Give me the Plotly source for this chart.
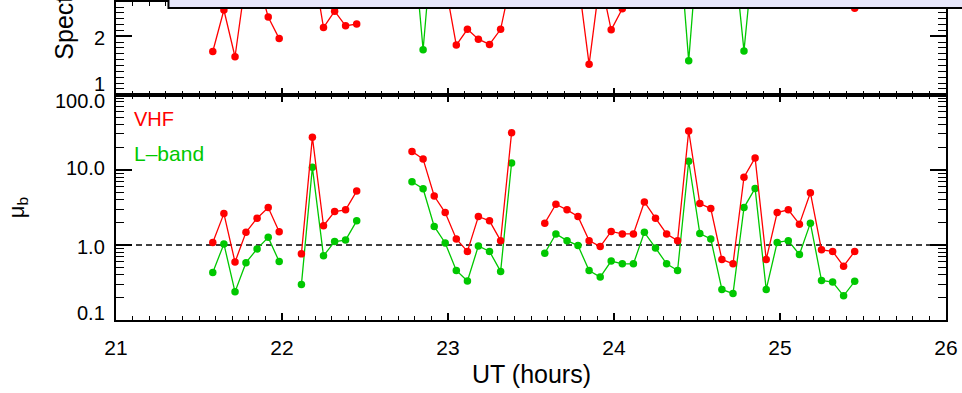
import plotly.graph_objects as go

# ---------------- data ----------------
# UT (hours); None separates the observation blocks
ut = [21.583, 21.650, 21.717, 21.783, 21.850, 21.917, 21.983, None,
      22.117, 22.183, 22.250, 22.317, 22.383, 22.450, None,
      22.783, 22.850, 22.917, 22.983, 23.050, 23.117, 23.183, 23.250, 23.317, 23.383, None,
      23.583, 23.650, 23.717, 23.783, 23.850, 23.917, 23.983, 24.050, 24.117, 24.183,
      24.250, 24.317, 24.383, 24.450, 24.517, 24.583, 24.650, 24.717, 24.783, 24.850,
      24.917, 24.983, 25.050, 25.117, 25.183, 25.250, 25.317, 25.383, 25.450]

mu_vhf = [1.08, 2.61, 0.59, 1.47, 2.27, 3.14, 1.50, None,
          0.76, 27.2, 1.80, 2.78, 2.93, 5.21, None,
          17.6, 13.9, 4.48, 2.70, 1.20, 0.82, 2.39, 2.09, 1.14, 31.1, None,
          1.95, 3.48, 2.93, 2.39, 1.14, 0.95, 1.51, 1.40, 1.40, 3.73,
          2.27, 1.40, 1.14, 33.0, 3.55, 3.05, 0.64, 0.56, 7.98, 14.4,
          0.64, 2.70, 2.93, 1.89, 4.95, 0.86, 0.82, 0.52, 0.82]

mu_lband = [0.43, 1.03, 0.237, 0.58, 0.885, 1.26, 0.60, None,
            0.296, 10.8, 0.716, 1.11, 1.16, 2.09, None,
            6.92, 5.60, 1.76, 1.06, 0.457, 0.33, 0.97, 0.82, 0.444, 12.3, None,
            0.775, 1.40, 1.14, 0.98, 0.457, 0.373, 0.61, 0.56, 0.56, 1.47,
            0.91, 0.56, 0.457, 13.0, 1.42, 1.20, 0.255, 0.225, 3.14, 5.66,
            0.255, 1.08, 1.14, 0.745, 1.95, 0.337, 0.32, 0.21, 0.327]

spec_vhf = [1.74, 2.45, 1.65, 3.0, 3.0, 2.33, 1.96, None,
            3.2, 3.3, 2.15, 2.43, 2.18, 2.21, None,
            3.2, 3.3, 3.1, 2.9, 1.85, 2.12, 1.95, 1.86, 2.12, 3.0, None,
            3.1, 3.2, 3.1, 3.0, 1.52, 3.0, 2.11, 2.47, 3.0, 3.2,
            3.3, 3.2, 3.3, 3.4, 3.3, 3.2, 3.3, 3.4, 3.3, 3.2,
            3.3, 3.2, 3.1, 3.2, 3.3, 3.2, 3.1, 3.2, 2.48]

spec_lband = [3.6, 3.5, 3.6, 3.7, 3.6, 3.5, 3.6, None,
              3.6, 3.7, 3.6, 3.5, 3.6, 3.7, None,
              3.9, 1.77, 4.0, 3.8, 3.7, 3.6, 3.7, 3.8, 3.7, 3.6, None,
              3.7, 3.6, 3.7, 3.8, 3.7, 3.6, 3.7, 3.6, 3.7, 3.8,
              3.7, 3.8, 4.0, 1.58, 4.0, 3.8, 3.7, 3.6, 1.75, 3.7,
              3.6, 3.7, 3.8, 3.7, 3.6, 3.7, 3.8, 3.7, 3.6]

y_ticks_mu = ["100.0", "10.0", "1.0", "0.1"]
y_ticks_spec = ["2", "1"]

# ---------------- figure ----------------
W, H = 962, 393
ML, MR, MT, MB = 115.5, 16, 0, 73
PW, PH = W - ML - MR, H - MT - MB
split = 1 - 93.3 / PH

RED = "#FF0000"
GREEN = "#00C800"
FONT = "Liberation Sans, Arial, Helvetica, sans-serif"


def px(xp):
    return (xp - ML) / PW


def py(yp):
    return 1 - (yp - MT) / PH


fig = go.Figure()

mk = dict(size=7.5, symbol="circle")
ln = dict(width=1.3)

# top panel (spectral index)
fig.add_trace(go.Scatter(x=ut, y=spec_lband, mode="lines+markers", connectgaps=False,
                         line=dict(color=GREEN, **ln), marker=dict(color=GREEN, **mk),
                         xaxis="x2", yaxis="y2", showlegend=False))
fig.add_trace(go.Scatter(x=ut, y=spec_vhf, mode="lines+markers", connectgaps=False,
                         line=dict(color=RED, **ln), marker=dict(color=RED, **mk),
                         xaxis="x2", yaxis="y2", showlegend=False))

# bottom panel (mu_b)
fig.add_trace(go.Scatter(x=[21, 26], y=[1, 1], mode="lines",
                         line=dict(color="black", width=1.5, dash="6px,4px"),
                         showlegend=False, hoverinfo="skip"))
fig.add_trace(go.Scatter(x=ut, y=mu_lband, mode="lines+markers", connectgaps=False,
                         line=dict(color=GREEN, **ln), marker=dict(color=GREEN, **mk),
                         showlegend=False))
fig.add_trace(go.Scatter(x=ut, y=mu_vhf, mode="lines+markers", connectgaps=False,
                         line=dict(color=RED, **ln), marker=dict(color=RED, **mk),
                         showlegend=False))

axis_common = dict(showline=True, linecolor="black", linewidth=2, mirror="allticks",
                   ticks="inside", tickcolor="black", tickwidth=1.5, showgrid=False,
                   zeroline=False)

fig.update_layout(
    width=W, height=H,
    margin=dict(l=ML, r=MR, t=MT, b=MB, pad=0),
    paper_bgcolor="white", plot_bgcolor="white",
    font=dict(family=FONT, size=20, color="black"),
    xaxis=dict(domain=[0, 1], anchor="y", range=[21, 26], tick0=21, dtick=1, ticklen=7,
               ticklabelstandoff=8,
               minor=dict(dtick=0.1, ticklen=4, ticks="inside", tickcolor="black", tickwidth=1.2),
               tickfont=dict(size=21), **axis_common),
    yaxis=dict(domain=[0, split], anchor="x", type="log", range=[-1, 2], tick0=0, dtick=1,
               ticklen=16, showticklabels=False,
               minor=dict(dtick="D1", ticklen=8, ticks="inside", tickcolor="black", tickwidth=1.2),
               **axis_common),
    xaxis2=dict(domain=[0, 1], anchor="y2", matches="x", range=[21, 26], tick0=21, dtick=1,
                ticklen=7, showticklabels=False,
                minor=dict(dtick=0.1, ticklen=4, ticks="inside", tickcolor="black", tickwidth=1.2),
                **axis_common),
    yaxis2=dict(domain=[split, 1], anchor="x2", range=[1, 2 + 34.5 / 58.8], tick0=1, dtick=1,
                ticklen=16, showticklabels=False,
                minor=dict(dtick=0.1, ticklen=8, ticks="inside", tickcolor="black", tickwidth=1.2),
                **axis_common),
)

ann = []
for txt, yp in zip(y_ticks_mu, [100, 166.7, 246.7, 312.5]):
    ann.append(dict(text=txt, x=px(106), y=py(yp), xref="paper", yref="paper",
                    xanchor="right", yanchor="middle", showarrow=False, font=dict(size=20)))
for txt, yp in zip(y_ticks_spec, [36.7, 83]):
    ann.append(dict(text=txt, x=px(106), y=py(yp), xref="paper", yref="paper",
                    xanchor="right", yanchor="middle", showarrow=False, font=dict(size=20)))
ann.append(dict(text="VHF", x=px(132), y=py(118), xref="paper", yref="paper",
                xanchor="left", yanchor="middle", showarrow=False, font=dict(size=20, color=RED)))
ann.append(dict(text="L\u2013band", x=px(132), y=py(152), xref="paper", yref="paper",
                xanchor="left", yanchor="middle", showarrow=False, font=dict(size=21, color=GREEN)))
ann.append(dict(text="\u03bc<sub>b</sub>", x=px(17), y=py(207), xref="paper", yref="paper",
                xanchor="center", yanchor="middle", showarrow=False, textangle=-90,
                font=dict(size=22)))
ann.append(dict(text="Spectral index", x=px(64), y=py(60), xref="paper", yref="paper",
                xanchor="center", yanchor="bottom", showarrow=False, textangle=-90,
                font=dict(size=25)))
ann.append(dict(text="UT (hours)", x=0.5, y=py(374), xref="paper", yref="paper",
                xanchor="center", yanchor="middle", showarrow=False, font=dict(size=25)))
fig.update_layout(annotations=ann)

# overlapping legend box of the panel above (cropped)
fig.add_shape(type="rect", xref="paper", yref="paper", x0=px(168), x1=1.2, y0=py(6), y1=1.2,
              fillcolor="#E6E6FA", line=dict(color="black", width=2), layer="above")

fig.write_html("out.html")
